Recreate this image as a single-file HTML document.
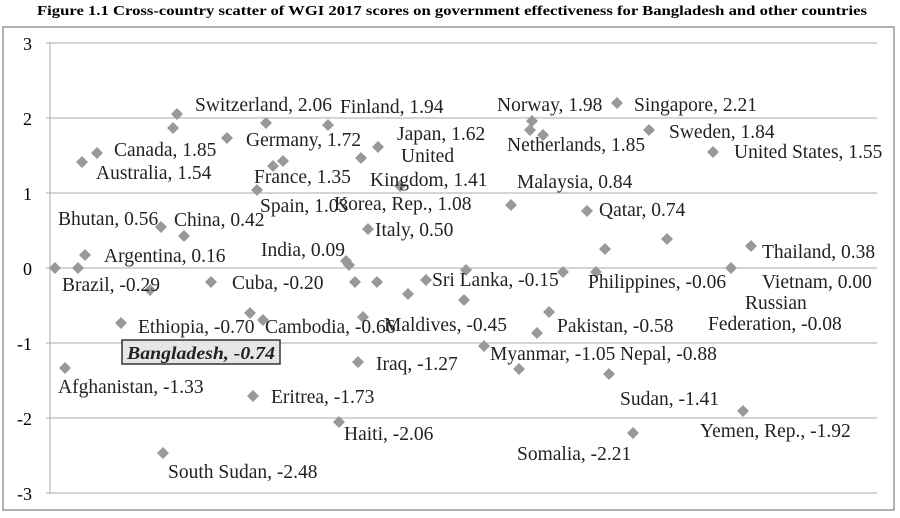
<!DOCTYPE html>
<html><head><meta charset="utf-8"><style>
body{margin:0;background:#fff;}
svg{display:block;font-family:"Liberation Serif",serif;}
</style></head><body>
<svg width="900" height="518" viewBox="0 0 900 518" xmlns="http://www.w3.org/2000/svg">
<defs><path id="d" d="M0,-6 L6,0 L0,6 L-6,0Z" fill="#999"/></defs>
<text x="452" y="15" text-anchor="middle" font-size="13.3" font-weight="bold" textLength="830" lengthAdjust="spacingAndGlyphs">Figure 1.1 Cross-country scatter of WGI 2017 scores on government effectiveness for Bangladesh and other countries</text>
<rect x="3" y="27" width="891" height="483" fill="#fff" stroke="#999" stroke-width="1.5"/>
<g stroke="#aaa" stroke-width="1">
<line x1="50" y1="43" x2="50" y2="493"/>
<line x1="46" y1="43" x2="877" y2="43"/>
<line x1="46" y1="118" x2="877" y2="118"/>
<line x1="46" y1="193" x2="877" y2="193"/>
<line x1="46" y1="268" x2="877" y2="268"/>
<line x1="46" y1="343" x2="877" y2="343"/>
<line x1="46" y1="418" x2="877" y2="418"/>
<line x1="46" y1="493" x2="877" y2="493"/>
</g>
<g font-size="18" text-anchor="end">
<text x="32" y="50">3</text><text x="32" y="125">2</text><text x="32" y="200">1</text>
<text x="32" y="275">0</text><text x="32" y="350">-1</text><text x="32" y="425">-2</text><text x="32" y="500">-3</text>
</g>
<g>
<use href="#d" x="65" y="368"/><use href="#d" x="78" y="268"/><use href="#d" x="55" y="268"/><use href="#d" x="85" y="255"/>
<use href="#d" x="82" y="162"/><use href="#d" x="97" y="153"/><use href="#d" x="150" y="290"/><use href="#d" x="121" y="323"/>
<use href="#d" x="161" y="227"/><use href="#d" x="184" y="236"/><use href="#d" x="173" y="128"/><use href="#d" x="177" y="114"/>
<use href="#d" x="227" y="138"/><use href="#d" x="266" y="123"/><use href="#d" x="211" y="282"/><use href="#d" x="250" y="313"/>
<use href="#d" x="263" y="320"/><use href="#d" x="257" y="190"/><use href="#d" x="273" y="166"/><use href="#d" x="283" y="161"/>
<use href="#d" x="328" y="125"/><use href="#d" x="361" y="158"/><use href="#d" x="378" y="147"/><use href="#d" x="400" y="186"/>
<use href="#d" x="346" y="261"/><use href="#d" x="349" y="265"/><use href="#d" x="355" y="282"/><use href="#d" x="368" y="229"/>
<use href="#d" x="358" y="362"/><use href="#d" x="253" y="396"/><use href="#d" x="339" y="422"/><use href="#d" x="163" y="453"/>
<use href="#d" x="363" y="317"/><use href="#d" x="377" y="282"/><use href="#d" x="408" y="294"/><use href="#d" x="426" y="280"/>
<use href="#d" x="466" y="270"/><use href="#d" x="464" y="300"/><use href="#d" x="484" y="346"/><use href="#d" x="519" y="369"/>
<use href="#d" x="537" y="333"/><use href="#d" x="549" y="312"/><use href="#d" x="511" y="205"/><use href="#d" x="532" y="121"/>
<use href="#d" x="530" y="130"/><use href="#d" x="543" y="135"/><use href="#d" x="563" y="272"/><use href="#d" x="596" y="272"/>
<use href="#d" x="605" y="249"/><use href="#d" x="587" y="211"/><use href="#d" x="617" y="103"/><use href="#d" x="649" y="130"/>
<use href="#d" x="667" y="239"/><use href="#d" x="713" y="152"/><use href="#d" x="731" y="268"/><use href="#d" x="751" y="246"/>
<use href="#d" x="743" y="411"/><use href="#d" x="633" y="433"/><use href="#d" x="609" y="374"/>
</g>
<g font-size="19.5" fill="#222">
<text x="195" y="111">Switzerland, 2.06</text>
<text x="340" y="113">Finland, 1.94</text>
<text x="497" y="111">Norway, 1.98</text>
<text x="634" y="111">Singapore, 2.21</text>
<text x="114" y="156">Canada, 1.85</text>
<text x="246" y="146">Germany, 1.72</text>
<text x="397" y="140">Japan, 1.62</text>
<text x="401" y="162">United</text>
<text x="507" y="151">Netherlands, 1.85</text>
<text x="669" y="138">Sweden, 1.84</text>
<text x="734" y="158">United States, 1.55</text>
<text x="96" y="179">Australia, 1.54</text>
<text x="254" y="183">France, 1.35</text>
<text x="370" y="186">Kingdom, 1.41</text>
<text x="517" y="188">Malaysia, 0.84</text>
<text x="260" y="212">Spain, 1.03</text>
<text x="334" y="210">Korea, Rep., 1.08</text>
<text x="58" y="225">Bhutan, 0.56</text>
<text x="174" y="226">China, 0.42</text>
<text x="599" y="216">Qatar, 0.74</text>
<text x="375" y="236">Italy, 0.50</text>
<text x="261" y="256">India, 0.09</text>
<text x="104" y="262">Argentina, 0.16</text>
<text x="762" y="258">Thailand, 0.38</text>
<text x="62" y="291">Brazil, -0.29</text>
<text x="232" y="289">Cuba, -0.20</text>
<text x="432" y="286">Sri Lanka, -0.15</text>
<text x="588" y="288">Philippines, -0.06</text>
<text x="762" y="288">Vietnam, 0.00</text>
<text x="745" y="309">Russian</text>
<text x="708" y="330">Federation, -0.08</text>
<text x="138" y="333">Ethiopia, -0.70</text>
<text x="265" y="333">Cambodia, -0.66</text>
<text x="384" y="331">Maldives, -0.45</text>
<text x="557" y="332">Pakistan, -0.58</text>
<text x="490" y="360">Myanmar, -1.05</text>
<text x="620" y="360">Nepal, -0.88</text>
<text x="376" y="370">Iraq, -1.27</text>
<text x="58" y="393">Afghanistan, -1.33</text>
<text x="620" y="405">Sudan, -1.41</text>
<text x="271" y="403">Eritrea, -1.73</text>
<text x="700" y="437">Yemen, Rep., -1.92</text>
<text x="344" y="440">Haiti, -2.06</text>
<text x="517" y="460">Somalia, -2.21</text>
<text x="168" y="478">South Sudan, -2.48</text>
</g>
<rect x="122" y="340" width="158" height="24" fill="#e6e6e6" stroke="#333" stroke-width="1.5"/>
<text x="127" y="359" font-size="18" font-weight="bold" font-style="italic" fill="#222" textLength="148" lengthAdjust="spacingAndGlyphs">Bangladesh, -0.74</text>
</svg>
</body></html>
